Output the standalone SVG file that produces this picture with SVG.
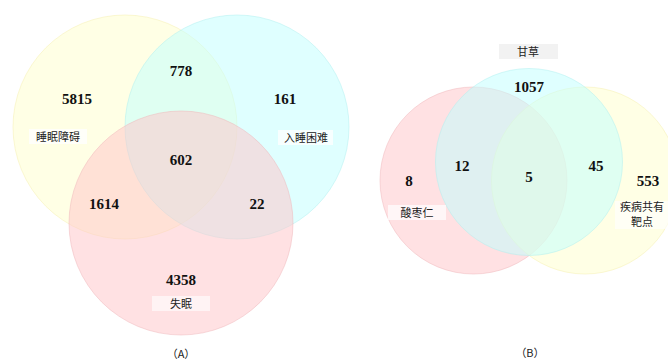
<svg xmlns="http://www.w3.org/2000/svg" width="668" height="361" viewBox="0 0 668 361">
<style>
.c{fill-opacity:0.5;stroke-opacity:0.5;stroke-width:1}
.y{fill:#ffffcc;stroke:#f5f0b0}
.b{fill:#c0ffff;stroke:#b0f0f0}
.p{fill:#ffc4c8;stroke:#f0b8bc}
.n{font-family:"Liberation Serif","Times New Roman",serif;font-weight:bold;font-size:15px;text-anchor:middle;fill:#111}
.l{font-family:"Noto Sans CJK SC","Noto Sans CJK JP",sans-serif;font-size:11px;text-anchor:middle;fill:#222}
.t{font-family:"Noto Sans CJK SC","Noto Sans CJK JP",sans-serif;font-size:11px;text-anchor:middle;fill:#222}
</style>
<rect width="668" height="361" fill="#ffffff"/>
<g id="A">
<g id="A-sleep-disorder"><circle class="c y" cx="125" cy="127" r="112"/></g>
<g id="A-difficulty"><circle class="c b" cx="237" cy="127" r="112"/></g>
<g id="A-insomnia"><circle class="c p" cx="181" cy="223" r="112"/></g>
<g id="A-numbers">
<text class="n" x="77" y="104">5815</text>
<text class="n" x="181" y="76">778</text>
<text class="n" x="285" y="104">161</text>
<text class="n" x="181" y="165">602</text>
<text class="n" x="104" y="209">1614</text>
<text class="n" x="257" y="209">22</text>
<text class="n" x="181" y="285">4358</text>
</g>
<g id="A-labels">
<rect x="29" y="129" width="58" height="15" fill="#ffffff" fill-opacity="0.75"/>
<text class="l" x="58" y="141">睡眠障碍</text>
<rect x="278" y="130" width="55" height="15" fill="#ffffff" fill-opacity="0.75"/>
<text class="l" x="306" y="142">入睡困难</text>
<rect x="152" y="296" width="58" height="15" fill="#ffffff" fill-opacity="0.6"/>
<text class="l" x="181" y="308">失眠</text>
</g>
<text class="t" x="181" y="358">（A）</text>
</g>
<g id="B">
<g id="B-suanzaoren"><circle class="c p" cx="473.5" cy="180.5" r="93.5"/></g>
<g id="B-disease"><circle class="c y" cx="585" cy="180.5" r="93.5"/></g>
<g id="B-gancao"><circle class="c b" cx="529" cy="162" r="93.5"/></g>
<g id="B-numbers">
<text class="n" x="529" y="92">1057</text>
<text class="n" x="462" y="171">12</text>
<text class="n" x="409" y="186">8</text>
<text class="n" x="529" y="182">5</text>
<text class="n" x="596" y="171">45</text>
<text class="n" x="648" y="186">553</text>
</g>
<g id="B-labels">
<rect x="499" y="44" width="59" height="15" fill="#f2f2f2"/>
<text class="l" x="528" y="56">甘草</text>
<rect x="388" y="205" width="58" height="15" fill="#ffffff" fill-opacity="0.7"/>
<text class="l" x="417" y="217">酸枣仁</text>
<rect x="615" y="201" width="53" height="28" fill="#ffffff" fill-opacity="0.6"/>
<text class="l" x="642" y="211" font-size="10">疾病共有</text>
<text class="l" x="642" y="226" font-size="10">靶点</text>
</g>
<text class="t" x="530" y="357">（B）</text>
</g>
</svg>
